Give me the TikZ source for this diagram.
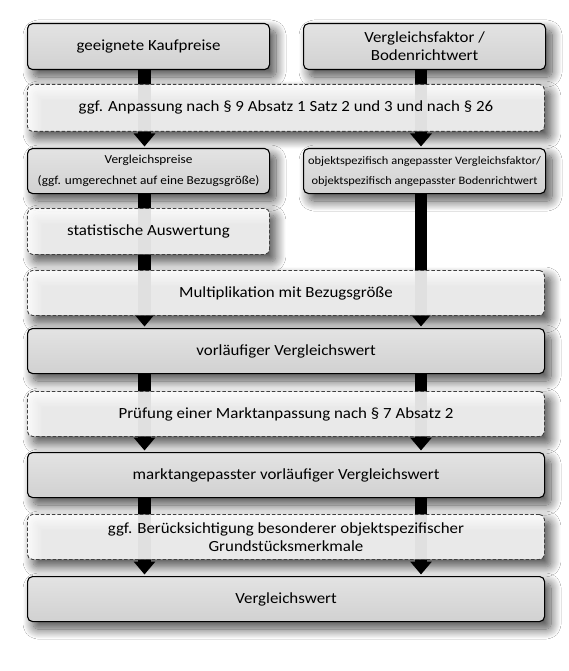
\documentclass[tikz,border=0pt]{standalone}
\usepackage{fontspec}
\setmainfont{Carlito}[FakeStretch=1.09]
\usetikzlibrary{arrows.meta,shadows.blur}
\pgfdeclarelayer{shadowlayer}
\pgfsetlayers{shadowlayer,main}
\tikzset{
  mainfont/.style={font=\fontsize{15.5}{18}\selectfont},
  box/.style={draw=black, line width=1.1pt, rounded corners=5pt,
    top color=black!11, bottom color=black!18, anchor=north west,
    align=center, inner sep=2pt, mainfont},
  optbox/.style={draw=black!75, line width=0.9pt, dash pattern=on 3.5pt off 2pt,
    rounded corners=5pt, fill=white, fill opacity=0.88, text opacity=1,
    draw opacity=1, anchor=north west, align=center, inner sep=2pt, mainfont},
  flow/.style={line width=12.5pt, draw=black, -{Triangle[width=21pt,length=13pt]}, shorten >=1.5pt},
  softshadow/.style={blur shadow={shadow xshift=6pt, shadow yshift=-7pt,
    shadow blur radius=10pt, shadow opacity=70, shadow blur steps=16}},
  wide/.style={minimum width=517pt},
  half/.style={minimum width=242pt},
}
\begin{document}
\begin{tikzpicture}[x=1pt,y=-1pt]
\begin{pgfonlayer}{shadowlayer}
\fill[white] (0,0) rectangle (568,671);
\end{pgfonlayer}
\useasboundingbox (0,0) rectangle (568,671);
\coordinate (cl) at (144.5,0);
\coordinate (cr) at (421,0);

\node[box, half, minimum height=46pt] (b1) at (27,23) {geeignete Kaufpreise};
\node[box, half, minimum height=46pt] (b2) at (303,23) {Vergleichsfaktor /\\Bodenrichtwert};
\node[box, half, minimum height=45pt, font=\fontsize{12.2}{21}\selectfont] (b4) at (27,148) {Vergleichspreise\\(ggf. umgerechnet auf eine Bezugsgröße)};
\node[box, half, minimum height=45pt, font=\fontsize{11.4}{20}\selectfont] (b5) at (303,148) {objektspezifisch angepasster Vergleichsfaktor/\\objektspezifisch angepasster Bodenrichtwert};
\node[box, wide, minimum height=45pt] (b8) at (27,328) {vorläufiger Vergleichswert};
\node[box, wide, minimum height=45pt] (b10) at (27,452) {marktangepasster vorläufiger Vergleichswert};
\node[box, wide, minimum height=45pt] (b12) at (27,576) {Vergleichswert};

\draw[flow] (b1.south -| cl) -- (b4.north -| cl);
\draw[flow] (b2.south -| cr) -- (b5.north -| cr);
\draw[flow] (b4.south -| cl) -- (b8.north -| cl);
\draw[flow] (b5.south -| cr) -- (b8.north -| cr);
\draw[flow] (b8.south -| cl) -- (b10.north -| cl);
\draw[flow] (b8.south -| cr) -- (b10.north -| cr);
\draw[flow] (b10.south -| cl) -- (b12.north -| cl);
\draw[flow] (b10.south -| cr) -- (b12.north -| cr);

\node[optbox, wide, minimum height=47pt] (d3) at (27,84) {ggf. Anpassung nach § 9 Absatz 1 Satz 2 und 3 und nach § 26};
\node[optbox, half, minimum height=46pt] (d6) at (27,208) {statistische Auswertung};
\node[optbox, wide, minimum height=45pt] (d7) at (27,270) {Multiplikation mit Bezugsgröße};
\node[optbox, wide, minimum height=45pt] (d9) at (27,391) {Prüfung einer Marktanpassung nach § 7 Absatz 2};
\node[optbox, wide, minimum height=45pt] (d11) at (27,514) {ggf. Berücksichtigung besonderer objektspezifischer\\Grundstücksmerkmale};

\begin{pgfonlayer}{shadowlayer}
\foreach \n in {b1,b2,d3,b4,b5,d6,d7,b8,d9,b10,d11,b12}
  \path[softshadow, rounded corners=5pt] (\n.north west) rectangle (\n.south east);
\end{pgfonlayer}
\end{tikzpicture}
\end{document}
